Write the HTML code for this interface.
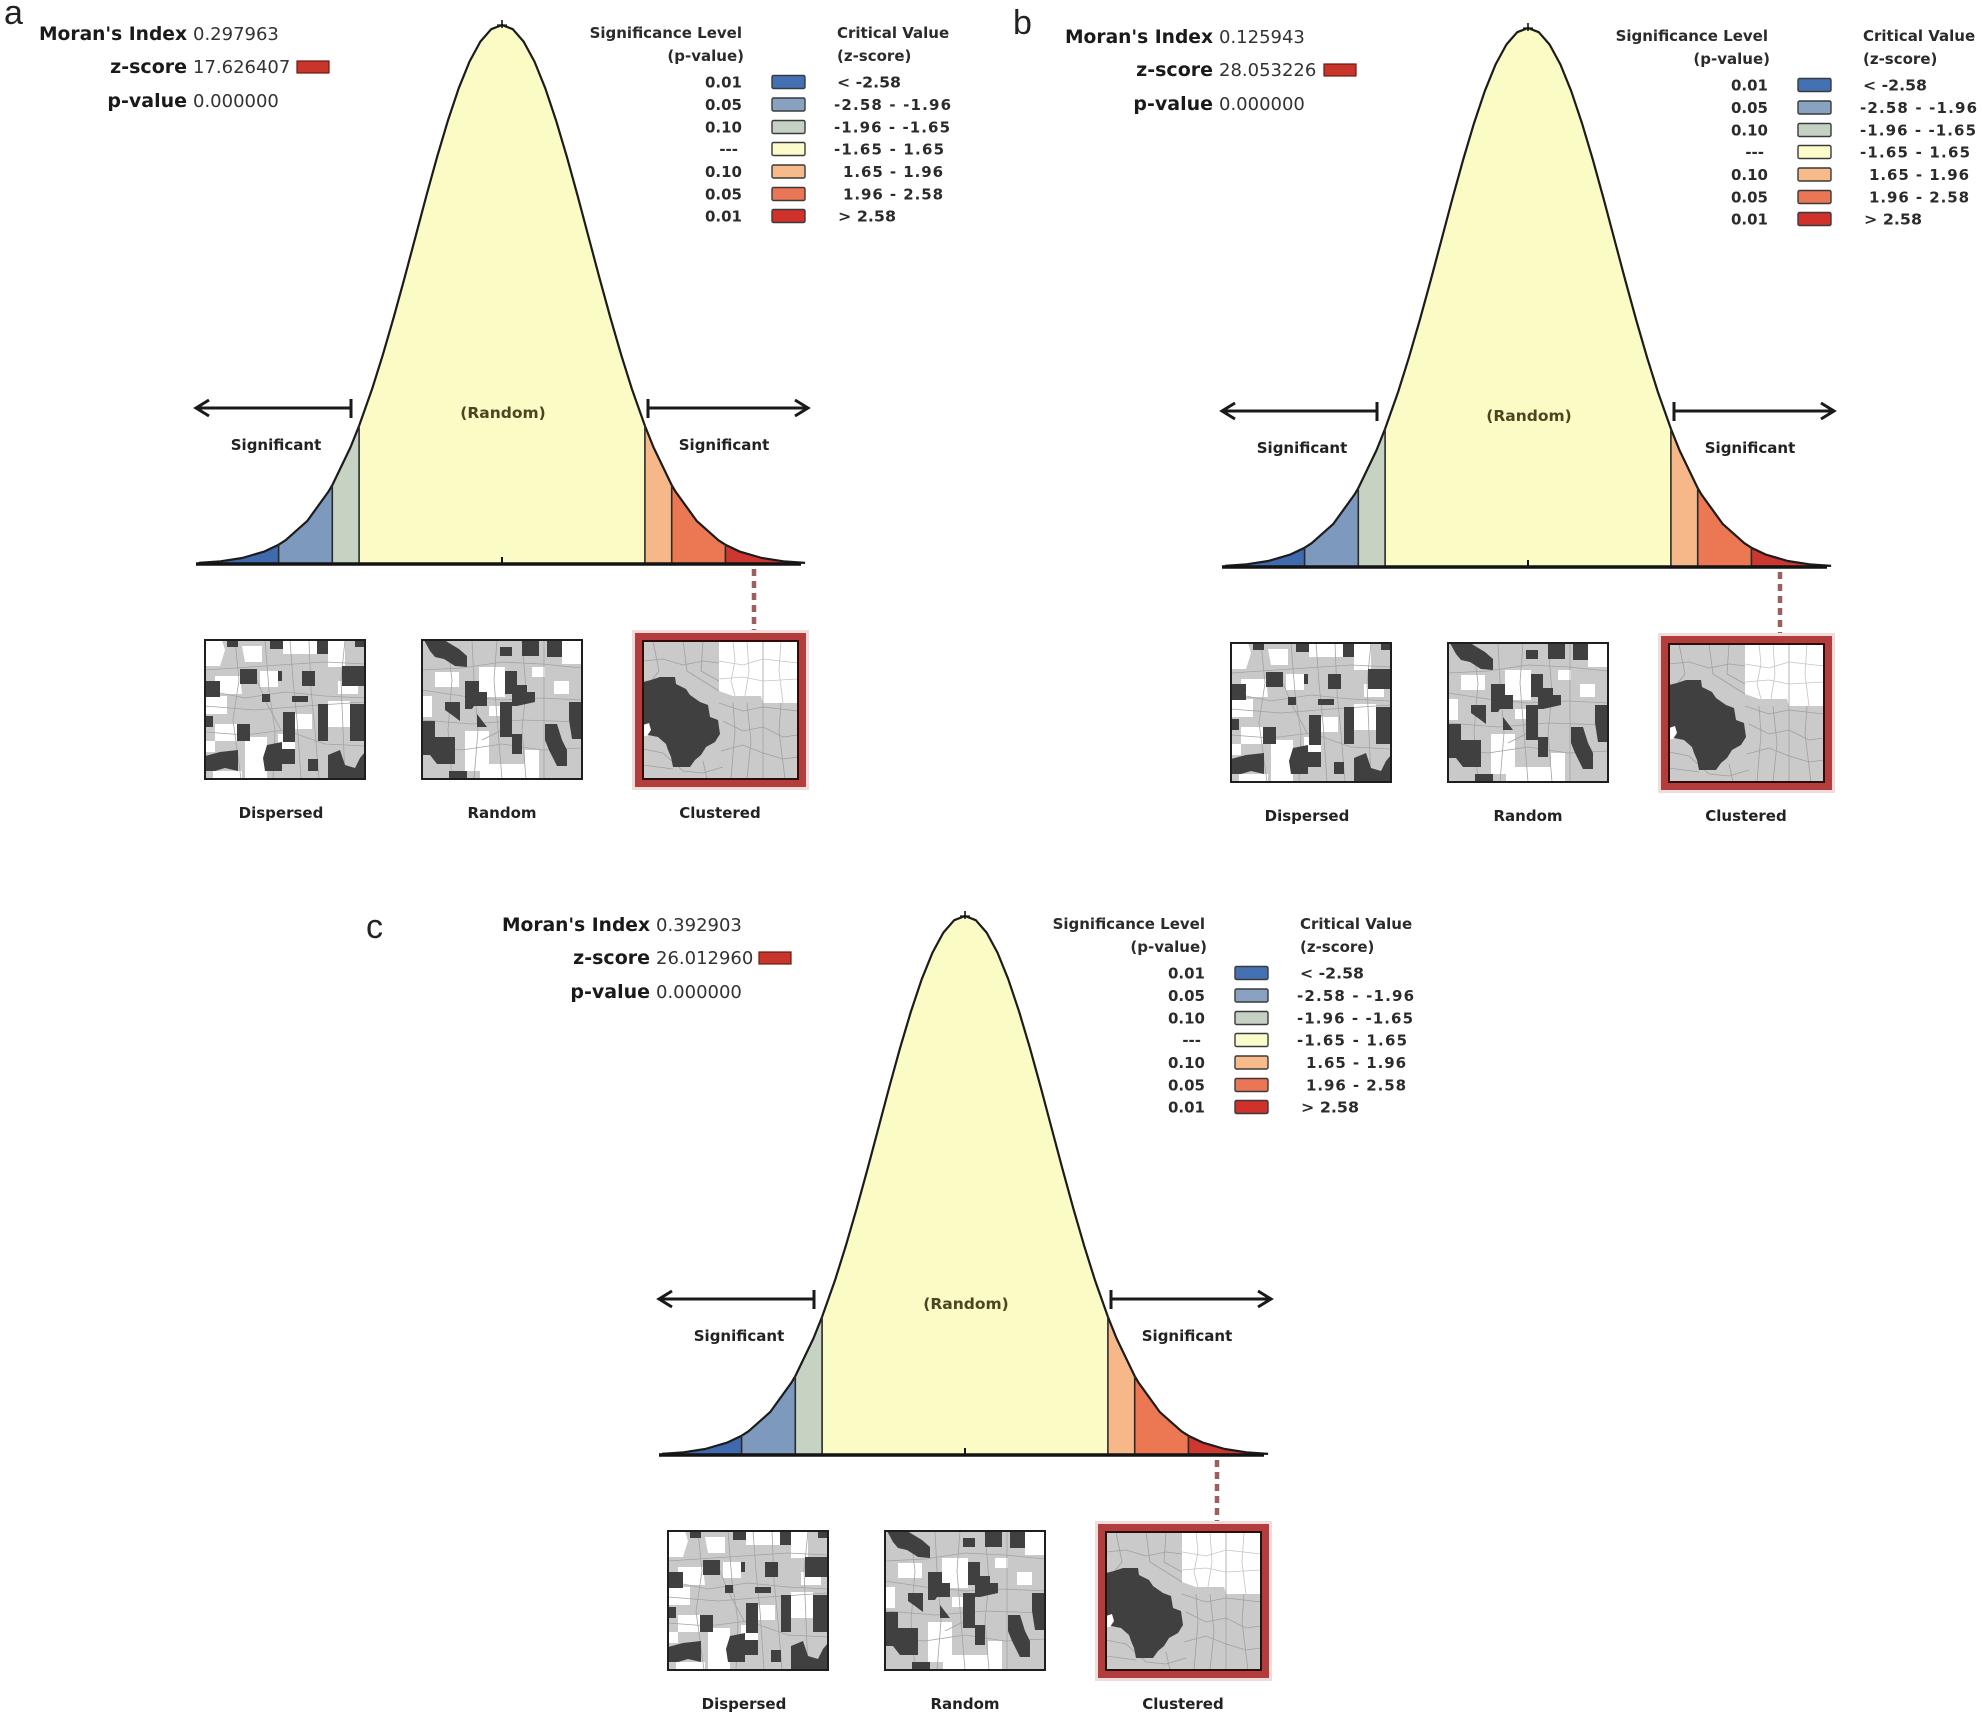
<!DOCTYPE html>
<html>
<head>
<meta charset="utf-8">
<style>
html,body{margin:0;padding:0;background:#fff;}
svg{display:block;}
</style>
</head>
<body>
<svg width="1982" height="1717" viewBox="0 0 1982 1717" xmlns="http://www.w3.org/2000/svg" xmlns:xlink="http://www.w3.org/1999/xlink" font-family="'DejaVu Sans', 'Liberation Sans', sans-serif">
<defs>
  <!-- Dispersed map -->
  <g id="mapD">
    <rect x="0" y="0" width="160" height="139" fill="#c9c9c9"/>
    <g fill="#ffffff">
      <polygon points="0,0 17,0 20,10 15,26 0,26"/>
      <polygon points="37,6 57,6 57,22 40,22"/>
      <polygon points="78,0 113,0 113,14 78,14"/>
      <polygon points="123,0 140,0 140,27 123,27"/>
      <polygon points="55,31 73,31 73,47 55,47"/>
      <polygon points="10,36 35,36 37,54 10,54"/>
      <polygon points="133,41 153,41 153,54 133,54"/>
      <polygon points="0,56 22,56 22,74 0,74"/>
      <polygon points="10,84 32,84 32,101 10,101"/>
      <polygon points="40,97 62,97 62,139 40,139"/>
      <polygon points="90,74 107,74 107,89 90,89"/>
      <polygon points="123,61 145,61 145,87 123,87"/>
      <polygon points="73,94 90,94 90,111 73,111"/>
      <polygon points="8,131 37,131 37,139 8,139"/>
      <polygon points="0,101 10,101 10,112 0,112"/>
    </g>
    <g fill="none" stroke="#a3a3a3" stroke-width="0.8">
      <polyline points="0,30 30,28 60,26 90,24 120,22 160,24"/>
      <polyline points="0,50 40,58 80,52 120,56 160,58"/>
      <polyline points="0,66 50,70 100,66 160,62"/>
      <polyline points="0,92 40,95 80,90 120,104 160,106"/>
      <polyline points="30,0 34,40 28,80 36,139"/>
      <polyline points="60,0 64,50 70,90 68,139"/>
      <polyline points="85,0 88,40 92,80 96,139"/>
      <polyline points="104,0 106,50 110,90 114,139"/>
      <polyline points="48,30 60,60 76,90"/>
      <polyline points="140,0 136,40 140,139"/>
    </g>
    <g fill="#404040">
      <polygon points="22,0 33,0 33,7 22,7"/>
      <polygon points="65,0 78,0 78,9 65,9"/>
      <polygon points="112,0 123,0 123,14 112,14"/>
      <polygon points="150,0 160,0 160,7 150,7"/>
      <polygon points="35,29 52,29 52,44 35,44"/>
      <polygon points="0,41 15,41 15,57 0,57"/>
      <polygon points="57,54 65,54 65,62 57,62"/>
      <polygon points="73,31 77,31 77,41 73,41"/>
      <polygon points="97,31 110,31 110,46 97,46"/>
      <polygon points="87,56 103,56 103,62 87,62"/>
      <polygon points="137,26 160,26 160,46 137,46"/>
      <polygon points="113,64 123,64 123,101 113,101"/>
      <polygon points="145,64 160,64 160,101 145,101"/>
      <polygon points="78,72 90,72 90,102 78,102"/>
      <polygon points="0,76 8,76 8,87 0,87"/>
      <polygon points="32,84 45,84 45,101 32,101"/>
      <polygon points="0,116 15,112 33,110 33,131 20,128 10,131 0,131"/>
      <polygon points="62,105 77,102 77,131 60,131 58,118"/>
      <polygon points="75,109 90,109 90,124 75,124"/>
      <polygon points="103,119 113,119 113,131 103,131"/>
      <polygon points="123,115 135,110 140,125 150,128 155,118 160,112 160,139 123,139"/>
    </g>
    <rect x="0" y="0" width="160" height="139" fill="none" stroke="#1e1e1e" stroke-width="2"/>
  </g>

  <!-- Random map -->
  <g id="mapR">
    <rect x="0" y="0" width="160" height="139" fill="#c9c9c9"/>
    <g fill="#ffffff">
      <polygon points="0,56 10,56 10,77 0,77"/>
      <polygon points="13,32 37,32 37,47 13,47"/>
      <polygon points="57,27 83,27 83,57 57,57"/>
      <polygon points="110,27 123,27 123,37 110,37"/>
      <polygon points="132,41 147,41 147,54 132,54"/>
      <polygon points="140,0 160,0 160,24 140,24"/>
      <polygon points="43,91 67,91 67,131 43,131"/>
      <polygon points="58,124 117,124 117,139 58,139"/>
      <polygon points="103,110 117,110 117,124 103,124"/>
      <polygon points="67,66 83,66 83,76 67,76"/>
    </g>
    <g fill="none" stroke="#a3a3a3" stroke-width="0.8">
      <polyline points="0,30 40,28 80,22 120,24 160,28"/>
      <polyline points="0,50 40,56 80,60 120,58 160,60"/>
      <polyline points="0,80 50,84 100,80 160,82"/>
      <polyline points="0,106 40,110 80,104 120,110 160,108"/>
      <polyline points="25,0 30,40 26,90 30,139"/>
      <polyline points="50,0 52,40 56,90 52,139"/>
      <polyline points="75,0 72,40 76,90 80,139"/>
      <polyline points="100,0 104,50 100,90 104,139"/>
      <polyline points="122,0 122,139"/>
      <polyline points="60,100 80,90 100,100"/>
    </g>
    <g fill="#404040">
      <polygon points="2,0 22,0 37,9 45,16 45,27 33,26 22,19 13,17 8,11"/>
      <polygon points="78,7 90,7 90,16 78,16"/>
      <polygon points="100,0 117,0 117,16 100,16"/>
      <polygon points="125,0 140,0 140,17 125,17"/>
      <polygon points="43,41 57,41 57,52 65,52 65,66 52,66 50,69 43,69"/>
      <polygon points="83,31 95,31 95,45 105,45 105,54 83,54"/>
      <polygon points="90,52 113,52 113,62 95,66 90,66"/>
      <polygon points="23,62 38,62 38,81 30,75 23,70"/>
      <polygon points="55,74 65,87 55,87"/>
      <polygon points="78,62 90,62 90,97 78,97"/>
      <polygon points="90,94 100,94 100,114 90,114"/>
      <polygon points="123,84 135,84 140,100 145,110 145,126 135,126 127,110 123,100"/>
      <polygon points="147,62 160,62 160,99 150,99 147,80"/>
      <polygon points="0,81 13,81 13,101 0,101"/>
      <polygon points="0,97 33,97 33,124 15,124 8,115 0,115"/>
      <polygon points="27,131 45,131 45,139 27,139"/>
    </g>
    <rect x="0" y="0" width="160" height="139" fill="none" stroke="#1e1e1e" stroke-width="2"/>
  </g>

  <!-- Clustered map -->
  <g id="mapC">
    <rect x="0" y="0" width="155" height="138" fill="#cacaca"/>
    <polygon points="76,0 155,0 155,62 120,62 118,55 90,55 76,50" fill="#ffffff"/>
    <g fill="none" stroke="#a0a0a0" stroke-width="0.8">
      <polyline points="120,0 120,138"/>
      <polyline points="0,20 20,18 40,24 60,20 76,22"/>
      <polyline points="10,0 16,30 8,40"/>
      <polyline points="40,0 44,30 60,40 76,50"/>
      <polyline points="60,0 58,30 76,40"/>
      <polyline points="76,62 100,70 120,66 155,70"/>
      <polyline points="80,80 100,90 120,86 140,96 155,94"/>
      <polyline points="78,110 100,104 120,112 140,118 155,116"/>
      <polyline points="90,62 92,90 88,138"/>
      <polyline points="104,62 108,100 104,138"/>
      <polyline points="138,62 136,90 142,138"/>
      <polyline points="0,108 20,112 40,130 60,132 80,126"/>
      <polyline points="0,124 30,128"/>
      <polyline points="60,120 64,138"/>
    </g>
    <g fill="none" stroke="#c4c4c4" stroke-width="0.8">
      <polyline points="90,0 92,20 88,40 92,55"/>
      <polyline points="104,0 106,30 102,55"/>
      <polyline points="138,0 136,30 140,62"/>
      <polyline points="76,20 100,24 120,18 155,22"/>
      <polyline points="76,38 100,36 120,40 155,38"/>
    </g>
    <polygon points="0,41 8,39 17,36 32,36 33,43 43,48 47,54 57,61 65,64 67,76 75,79 77,93 72,101 63,106 58,114 52,119 47,126 30,126 28,116 25,109 23,103 15,96 5,94 0,94" fill="#404040"/>
    <polygon points="0,84 6,82 8,89 4,95 0,95" fill="#ffffff"/>
    <rect x="0" y="0" width="155" height="138" fill="none" stroke="#2a0d0d" stroke-width="2"/>
  </g>

  <!-- Bell curve graphic (shapes only) -->
  <g id="bell">
    <path d="M198.9,564 L198.9,562.8 L220.55,561.3 L242.2,558 L263.85,551.7 L278.6,544.7 L278.6,564 Z" fill="#3f6aae"/>
    <path d="M278.6,564 L278.6,544.7 L285.5,540.3 L307.15,521.1 L328.8,491.1 L332.3,485.1 L332.3,564 Z" fill="#7d99be"/>
    <path d="M332.3,564 L332.3,485.1 L350.45,447.4 L359.1,425.8 L359.1,564 Z" fill="#c6d3c3"/>
    <path d="M359.1,564 L359.1,425.8 L372.1,389 L382.9,354.6 L393.75,317.2 L404.6,277.7 L415.4,237.1 L426.2,196.4 L437.05,157.1 L447.9,120.6 L458.7,88.3 L469.5,61.6 L480.35,41.6 L491.2,29.2 L502,25 L512.8,29.2 L523.65,41.6 L534.5,61.6 L545.3,88.3 L556.1,120.6 L566.95,157.1 L577.8,196.4 L588.6,237.1 L599.4,277.7 L610.25,317.2 L621.1,354.6 L631.9,389 L644.9,425.8 L644.9,564 Z" fill="#fbfbc6"/>
    <path d="M644.9,564 L644.9,425.8 L653.55,447.4 L671.7,485.1 L671.7,564 Z" fill="#f7b889"/>
    <path d="M671.7,564 L671.7,485.1 L675.2,491.1 L696.85,521.1 L718.5,540.3 L725.4,544.7 L725.4,564 Z" fill="#eb7753"/>
    <path d="M725.4,564 L725.4,544.7 L740.15,551.7 L761.8,558 L783.45,561.3 L805.1,562.8 L805.1,564 Z" fill="#cc3730"/>
    <polyline fill="none" stroke="#1c1c1c" stroke-width="2.2" stroke-linejoin="round" points="198.9,562.8 220.55,561.3 242.2,558 263.85,551.7 278.6,544.7 285.5,540.3 307.15,521.1 328.8,491.1 332.3,485.1 350.45,447.4 359.1,425.8 372.1,389 382.9,354.6 393.75,317.2 404.6,277.7 415.4,237.1 426.2,196.4 437.05,157.1 447.9,120.6 458.7,88.3 469.5,61.6 480.35,41.6 491.2,29.2 502,25 512.8,29.2 523.65,41.6 534.5,61.6 545.3,88.3 556.1,120.6 566.95,157.1 577.8,196.4 588.6,237.1 599.4,277.7 610.25,317.2 621.1,354.6 631.9,389 644.9,425.8 653.55,447.4 671.7,485.1 675.2,491.1 696.85,521.1 718.5,540.3 725.4,544.7 740.15,551.7 761.8,558 783.45,561.3 805.1,562.8"/>
    <g stroke="#2a2a2a" stroke-width="1.6">
      <line x1="278.6" y1="544.7" x2="278.6" y2="564"/>
      <line x1="332.3" y1="485.1" x2="332.3" y2="564"/>
      <line x1="359.1" y1="425.8" x2="359.1" y2="564"/>
      <line x1="644.9" y1="425.8" x2="644.9" y2="564"/>
      <line x1="671.7" y1="485.1" x2="671.7" y2="564"/>
      <line x1="725.4" y1="544.7" x2="725.4" y2="564"/>
    </g>
    <line x1="196" y1="564" x2="801" y2="564" stroke="#141414" stroke-width="3.4"/>
    <line x1="502" y1="557" x2="502" y2="564" stroke="#141414" stroke-width="2"/>
    <line x1="502" y1="20" x2="502" y2="28" stroke="#141414" stroke-width="1.6"/>
    <line x1="497" y1="25" x2="507" y2="25" stroke="#141414" stroke-width="1.2"/>
    <!-- arrows -->
    <g stroke="#1a1a1a" stroke-width="3" fill="none" stroke-linecap="butt">
      <line x1="198" y1="408" x2="351" y2="408"/>
      <line x1="351" y1="399" x2="351" y2="418"/>
      <polyline points="209,400 196,408 209,416"/>
      <line x1="648" y1="408" x2="806" y2="408"/>
      <line x1="648" y1="399" x2="648" y2="418"/>
      <polyline points="795,400 808,408 795,416"/>
    </g>
    <!-- dotted connector -->
    <line x1="754" y1="569" x2="754" y2="630" stroke="#9d5e5e" stroke-width="4.5" stroke-dasharray="7,5"/>
    <!-- legend swatches -->
    <g stroke="#3a3a3a" stroke-width="1.4">
      <rect x="772" y="75.5" width="33" height="13" rx="1.5" fill="#4471b3"/>
      <rect x="772" y="98" width="33" height="13" rx="1.5" fill="#8aa2c2"/>
      <rect x="772" y="120.5" width="33" height="13" rx="1.5" fill="#c6d1c6"/>
      <rect x="772" y="142.5" width="33" height="13" rx="1.5" fill="#fcfcca"/>
      <rect x="772" y="165" width="33" height="13" rx="1.5" fill="#f7ba8b"/>
      <rect x="772" y="187.5" width="33" height="13" rx="1.5" fill="#eb7655"/>
      <rect x="772" y="209.5" width="33" height="13" rx="1.5" fill="#d0312b"/>
    </g>
    <!-- maps -->
    <use xlink:href="#mapD" href="#mapD" x="205" y="640"/>
    <use xlink:href="#mapR" href="#mapR" x="422" y="640"/>
    <rect x="632" y="630" width="177" height="160" fill="#f1dcdc"/>
    <rect x="635" y="633" width="171" height="154" fill="#b23d3c"/>
    <use xlink:href="#mapC" href="#mapC" x="643" y="641"/>
  </g>
</defs>

<!-- Panel letters -->
<text x="4" y="24" font-family="'Liberation Sans', sans-serif" font-size="34" fill="#222">a</text>
<text x="1013" y="34" font-family="'Liberation Sans', sans-serif" font-size="34" fill="#222">b</text>
<text x="366" y="938" font-family="'Liberation Sans', sans-serif" font-size="34" fill="#222">c</text>

<!-- ===== Panel a ===== -->
<g transform="translate(0,0)">
  <use xlink:href="#bell" href="#bell"/>
  <g font-weight="bold" fill="#1a1a1a" font-size="19" text-anchor="end">
    <text x="187" y="40" textLength="148" lengthAdjust="spacingAndGlyphs">Moran's Index</text>
    <text x="187" y="73">z-score</text>
    <text x="187" y="107">p-value</text>
  </g>
  <g fill="#333" font-size="18">
    <text x="193" y="40">0.297963</text>
    <text x="193" y="73">17.626407</text>
    <text x="193" y="107">0.000000</text>
  </g>
  <rect x="297" y="61" width="32" height="12" fill="#c8352b" stroke="#6b1a14" stroke-width="1.2"/>
  <g font-weight="bold" font-size="15" fill="#2b2b2b">
    <text x="742" y="38" text-anchor="end">Significance Level</text>
    <text x="744" y="61" text-anchor="end">(p-value)</text>
    <text x="837" y="38">Critical Value</text>
    <text x="837" y="61">(z-score)</text>
    <g text-anchor="end">
      <text x="742" y="87.5">0.01</text>
      <text x="742" y="110">0.05</text>
      <text x="742" y="132.5">0.10</text>
      <text x="738" y="154.5">---</text>
      <text x="742" y="177">0.10</text>
      <text x="742" y="199.5">0.05</text>
      <text x="742" y="221.5">0.01</text>
    </g>
    <text x="837" y="87.5" textLength="64" lengthAdjust="spacingAndGlyphs">&lt; -2.58</text>
    <text x="834" y="110" textLength="117" lengthAdjust="spacing">-2.58 - -1.96</text>
    <text x="834" y="132.5" textLength="116" lengthAdjust="spacing">-1.96 - -1.65</text>
    <text x="834" y="154.5" textLength="110" lengthAdjust="spacing">-1.65 - 1.65</text>
    <text x="843" y="177" textLength="100" lengthAdjust="spacing">1.65 - 1.96</text>
    <text x="843" y="199.5" textLength="100" lengthAdjust="spacing">1.96 - 2.58</text>
    <text x="838" y="221.5" textLength="58" lengthAdjust="spacingAndGlyphs">&gt; 2.58</text>
  </g>
  <text x="503" y="418" text-anchor="middle" font-weight="bold" font-size="15.5" fill="#4d4520">(Random)</text>
  <g font-weight="bold" font-size="15" fill="#222" text-anchor="middle">
    <text x="276" y="450">Significant</text>
    <text x="724" y="450">Significant</text>
    <text x="281" y="818">Dispersed</text>
    <text x="502" y="818">Random</text>
    <text x="720" y="818">Clustered</text>
  </g>
</g>

<!-- ===== Panel b ===== -->
<g transform="translate(1026,3)">
  <use xlink:href="#bell" href="#bell"/>
  <g font-weight="bold" fill="#1a1a1a" font-size="19" text-anchor="end">
    <text x="187" y="40" textLength="148" lengthAdjust="spacingAndGlyphs">Moran's Index</text>
    <text x="187" y="73">z-score</text>
    <text x="187" y="107">p-value</text>
  </g>
  <g fill="#333" font-size="18">
    <text x="193" y="40">0.125943</text>
    <text x="193" y="73">28.053226</text>
    <text x="193" y="107">0.000000</text>
  </g>
  <rect x="298" y="61" width="32" height="12" fill="#c8352b" stroke="#6b1a14" stroke-width="1.2"/>
  <g font-weight="bold" font-size="15" fill="#2b2b2b">
    <text x="742" y="38" text-anchor="end">Significance Level</text>
    <text x="744" y="61" text-anchor="end">(p-value)</text>
    <text x="837" y="38">Critical Value</text>
    <text x="837" y="61">(z-score)</text>
    <g text-anchor="end">
      <text x="742" y="87.5">0.01</text>
      <text x="742" y="110">0.05</text>
      <text x="742" y="132.5">0.10</text>
      <text x="738" y="154.5">---</text>
      <text x="742" y="177">0.10</text>
      <text x="742" y="199.5">0.05</text>
      <text x="742" y="221.5">0.01</text>
    </g>
    <text x="837" y="87.5" textLength="64" lengthAdjust="spacingAndGlyphs">&lt; -2.58</text>
    <text x="834" y="110" textLength="117" lengthAdjust="spacing">-2.58 - -1.96</text>
    <text x="834" y="132.5" textLength="116" lengthAdjust="spacing">-1.96 - -1.65</text>
    <text x="834" y="154.5" textLength="110" lengthAdjust="spacing">-1.65 - 1.65</text>
    <text x="843" y="177" textLength="100" lengthAdjust="spacing">1.65 - 1.96</text>
    <text x="843" y="199.5" textLength="100" lengthAdjust="spacing">1.96 - 2.58</text>
    <text x="838" y="221.5" textLength="58" lengthAdjust="spacingAndGlyphs">&gt; 2.58</text>
  </g>
  <text x="503" y="418" text-anchor="middle" font-weight="bold" font-size="15.5" fill="#4d4520">(Random)</text>
  <g font-weight="bold" font-size="15" fill="#222" text-anchor="middle">
    <text x="276" y="450">Significant</text>
    <text x="724" y="450">Significant</text>
    <text x="281" y="818">Dispersed</text>
    <text x="502" y="818">Random</text>
    <text x="720" y="818">Clustered</text>
  </g>
</g>

<!-- ===== Panel c ===== -->
<g transform="translate(463,891)">
  <use xlink:href="#bell" href="#bell"/>
  <g font-weight="bold" fill="#1a1a1a" font-size="19" text-anchor="end">
    <text x="187" y="40" textLength="148" lengthAdjust="spacingAndGlyphs">Moran's Index</text>
    <text x="187" y="73">z-score</text>
    <text x="187" y="107">p-value</text>
  </g>
  <g fill="#333" font-size="18">
    <text x="193" y="40">0.392903</text>
    <text x="193" y="73">26.012960</text>
    <text x="193" y="107">0.000000</text>
  </g>
  <rect x="296" y="61" width="32" height="12" fill="#c8352b" stroke="#6b1a14" stroke-width="1.2"/>
  <g font-weight="bold" font-size="15" fill="#2b2b2b">
    <text x="742" y="38" text-anchor="end">Significance Level</text>
    <text x="744" y="61" text-anchor="end">(p-value)</text>
    <text x="837" y="38">Critical Value</text>
    <text x="837" y="61">(z-score)</text>
    <g text-anchor="end">
      <text x="742" y="87.5">0.01</text>
      <text x="742" y="110">0.05</text>
      <text x="742" y="132.5">0.10</text>
      <text x="738" y="154.5">---</text>
      <text x="742" y="177">0.10</text>
      <text x="742" y="199.5">0.05</text>
      <text x="742" y="221.5">0.01</text>
    </g>
    <text x="837" y="87.5" textLength="64" lengthAdjust="spacingAndGlyphs">&lt; -2.58</text>
    <text x="834" y="110" textLength="117" lengthAdjust="spacing">-2.58 - -1.96</text>
    <text x="834" y="132.5" textLength="116" lengthAdjust="spacing">-1.96 - -1.65</text>
    <text x="834" y="154.5" textLength="110" lengthAdjust="spacing">-1.65 - 1.65</text>
    <text x="843" y="177" textLength="100" lengthAdjust="spacing">1.65 - 1.96</text>
    <text x="843" y="199.5" textLength="100" lengthAdjust="spacing">1.96 - 2.58</text>
    <text x="838" y="221.5" textLength="58" lengthAdjust="spacingAndGlyphs">&gt; 2.58</text>
  </g>
  <text x="503" y="418" text-anchor="middle" font-weight="bold" font-size="15.5" fill="#4d4520">(Random)</text>
  <g font-weight="bold" font-size="15" fill="#222" text-anchor="middle">
    <text x="276" y="450">Significant</text>
    <text x="724" y="450">Significant</text>
    <text x="281" y="818">Dispersed</text>
    <text x="502" y="818">Random</text>
    <text x="720" y="818">Clustered</text>
  </g>
</g>
</svg>
</body>
</html>
